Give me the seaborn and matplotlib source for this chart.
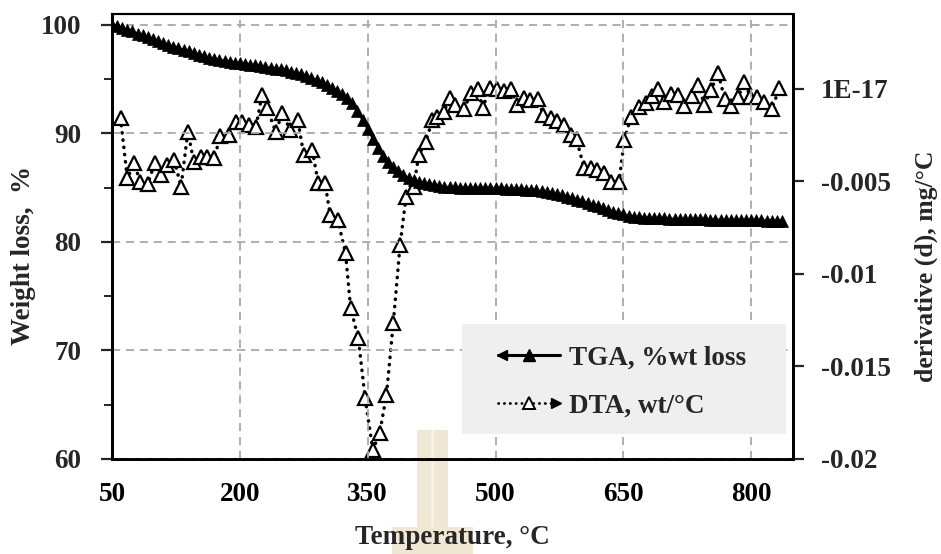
import numpy as np
import pandas as pd
import matplotlib
matplotlib.use("Agg")
import matplotlib.pyplot as plt
import seaborn as sns
from matplotlib.lines import Line2D
from matplotlib.patches import Rectangle
from matplotlib.legend_handler import HandlerLine2D
from matplotlib.ticker import FixedLocator, FixedFormatter

# ---------------- data ----------------
tga_wt = [
    100.0, 99.9, 99.75, 99.55, 99.4, 99.2, 99.05, 98.9, 98.7, 98.5,
    98.35, 98.15, 98.0, 97.85, 97.7, 97.55, 97.4, 97.25, 97.1, 96.98,
    96.88, 96.78, 96.68, 96.6, 96.52, 96.45, 96.38, 96.32, 96.26, 96.2,
    96.12, 96.05, 95.97, 95.9, 95.8, 95.7, 95.58, 95.45, 95.3, 95.12,
    94.92, 94.7, 94.45, 94.18, 93.9, 93.6, 93.25, 92.8, 92.1, 91.2,
    90.4, 89.5, 88.7, 87.9, 87.35, 86.9, 86.5, 86.15, 85.9, 85.7,
    85.52, 85.4, 85.3, 85.22, 85.15, 85.1, 85.05, 85.02, 85.0, 84.99,
    84.98, 84.97, 84.96, 84.95, 84.95, 84.94, 84.93, 84.92, 84.9, 84.88,
    84.86, 84.83, 84.8, 84.75, 84.68, 84.6, 84.5, 84.4, 84.3, 84.18,
    84.05, 83.9, 83.75, 83.6, 83.43, 83.27, 83.1, 82.95, 82.8, 82.68,
    82.55, 82.42, 82.33, 82.28, 82.25, 82.22, 82.2, 82.18, 82.16, 82.15,
    82.13, 82.12, 82.11, 82.1, 82.09, 82.08, 82.07, 82.06, 82.05, 82.04,
    82.03, 82.02, 82.01, 82.0, 81.99, 81.99, 81.98, 81.98, 81.97, 81.97,
    81.96, 81.96,
]
tga_temp = [50 + 6 * i for i in range(len(tga_wt))]

dta_temp = [
    60, 68, 76, 83, 92, 100, 108, 115, 123, 131,
    139, 146, 155, 162, 170, 177, 187, 195, 203, 211,
    219, 226, 232, 242, 250, 259, 268, 275, 285, 292,
    300, 306, 315, 324, 330, 339, 347, 356, 364, 372,
    380, 388, 395, 404, 410, 418, 426, 431, 439, 447,
    453, 463, 471, 479, 485, 493, 502, 510, 518, 525,
    533, 541, 550, 556, 565, 572, 580, 588, 595, 604,
    612, 619, 627, 635, 645, 651, 659, 668, 676, 684,
    691, 698, 706, 714, 721, 730, 738, 745, 753, 761,
    769, 776, 785, 792, 799, 807, 815, 824, 833,
]
dta_milli = [
    -1.58, -4.83, -4.02, -5.01, -5.14, -4.02, -4.65, -4.11, -3.84, -5.28,
    -2.31, -3.93, -3.66, -3.66, -3.75, -2.54, -2.49, -1.77, -1.77, -1.95,
    -2.04, -0.32, -1.04, -2.31, -1.31, -2.22, -1.68, -3.57, -3.30, -5.10,
    -5.10, -6.81, -7.08, -8.88, -11.85, -13.48, -16.72, -19.51, -18.61, -16.54,
    -12.66, -8.43, -5.82, -5.28, -3.57, -2.85, -1.68, -1.50, -1.23, -0.50,
    -0.86, -1.10, -0.23, -0.02, -1.04, 0.04, -0.02, -0.09, -0.02, -0.86,
    -0.50, -0.59, -0.56, -1.41, -1.58, -1.71, -1.95, -2.49, -2.72, -4.29,
    -4.29, -4.38, -4.56, -5.01, -5.01, -2.76, -1.50, -0.96, -0.74, -0.38,
    -0.02, -0.68, -0.27, -0.32, -0.92, -0.38, 0.22, -0.86, -0.05, 0.88,
    -0.56, -0.92, -0.41, 0.39, -0.41, -0.41, -0.68, -1.10, 0.04,
]
dta_val = [v * 1e-3 for v in dta_milli]

x_ticks = [50, 200, 350, 500, 650, 800]
left_ticks = [60, 70, 80, 90, 100]
left_minor = [65, 75, 85, 95]
right_ticks = [-0.02, -0.015, -0.01, -0.005, 0.0]
right_labels = ["-0.02", "-0.015", "-0.01", "-0.005", "1E-17"]

tga_df = pd.DataFrame({"Temperature": tga_temp, "TGA": tga_wt})
dta_df = pd.DataFrame({"Temperature": dta_temp, "DTA": dta_val})

# ---------------- style ----------------
sns.set_style("white")
plt.rcParams["font.family"] = ["Liberation Serif", "DejaVu Serif"]
plt.rcParams["font.weight"] = "bold"
plt.rcParams["axes.labelweight"] = "bold"
FS = 19.5

fig = plt.figure(figsize=(9.41, 5.54), dpi=100)
fig.patch.set_facecolor("white")

# faint watermark behind x label (figure pixels -> fraction)
W, H = 941.0, 554.0
def fr(x0, y0, x1, y1):
    return (x0 / W, 1 - y1 / H), (x1 - x0) / W, (y1 - y0) / H
for (x0, y0, x1, y1), c in [((417, 430, 448, 554), "#f0e7d4"),
                            ((392, 527, 473, 554), "#f0e7d4"),
                            ((431, 430, 434, 527), "#f7f2e8")]:
    xy, w, h = fr(x0, y0, x1, y1)
    fig.patches.append(Rectangle(xy, w, h, transform=fig.transFigure,
                                 facecolor=c, edgecolor="none", zorder=-5))

ax = fig.add_axes([112 / W, 1 - 459 / H, (793 - 112) / W, (459 - 14) / H])
ax2 = ax.twinx()
ax.set_zorder(ax2.get_zorder() + 1)
ax.patch.set_visible(False)
ax2.patch.set_visible(False)

# DTA (right axis)
sns.lineplot(data=dta_df, x="Temperature", y="DTA", ax=ax2, color="black",
             linestyle=(0, (0.1, 2.0)), linewidth=2.5, dash_capstyle="round",
             marker="^", markersize=9.5, markerfacecolor="white",
             markeredgecolor="black", markeredgewidth=1.6, sort=False)
# TGA (left axis)
sns.lineplot(data=tga_df, x="Temperature", y="TGA", ax=ax, color="black",
             linewidth=1.5, marker="^", markersize=9, markerfacecolor="black",
             markeredgecolor="black", markeredgewidth=0.5, sort=False)

ax.set_xlim(50, 849)
ax.set_ylim(60, 101)
ax2.set_ylim(-0.02, 0.00405)

ax.xaxis.set_major_locator(FixedLocator(x_ticks))
ax.xaxis.set_minor_locator(FixedLocator([125, 275, 425, 575, 725]))
ax.yaxis.set_major_locator(FixedLocator(left_ticks))
ax.yaxis.set_minor_locator(FixedLocator(left_minor))
ax2.yaxis.set_major_locator(FixedLocator(right_ticks))
ax2.yaxis.set_major_formatter(FixedFormatter(right_labels))

ax.grid(True, which="major", axis="both", color="#a8a8a8",
        linestyle=(0, (4.5, 3.2)), linewidth=1.3)

ax.tick_params(axis="x", which="major", direction="inout", length=13, width=1.6,
               labelsize=FS, pad=10, colors="black")
ax.tick_params(axis="x", which="minor", direction="out", length=6, width=1.4)
ax.tick_params(axis="y", which="major", direction="out", length=8, width=1.6,
               labelsize=FS, pad=14)
ax.tick_params(axis="y", which="minor", direction="out", length=6, width=1.4)
ax2.tick_params(axis="y", which="major", direction="out", length=8, width=1.6,
                labelsize=FS, pad=12)
for lab in ax.get_xticklabels() + ax.get_yticklabels() + ax2.get_yticklabels():
    lab.set_fontweight("bold")

for a in (ax, ax2):
    for s in a.spines.values():
        s.set_color("black")
        s.set_linewidth(2.0)
    a.spines["top"].set_linewidth(1.5)

ax.set_xlabel("Temperature, °C", fontsize=FS, fontweight="bold")
ax.set_ylabel("Weight loss,  %", fontsize=FS, fontweight="bold")
ax2.set_ylabel("derivative (d), mg/°C", fontsize=FS - 1, fontweight="bold")
ax.xaxis.set_label_coords(0.5, -0.148)
ax.yaxis.set_label_coords(-0.112, 0.458)
ax2.yaxis.set_label_coords(1.178, 0.434)

# legend box + legend
ax.add_patch(Rectangle((0.514, 0.056), 0.476, 0.247, transform=ax.transAxes,
                       facecolor="#efefef", edgecolor="none", zorder=2.5))


class ArrowHandler(HandlerLine2D):
    def __init__(self, side, **kw):
        super().__init__(**kw)
        self.side = side

    def create_artists(self, legend, orig_handle, xdescent, ydescent, width,
                       height, fontsize, trans):
        arts = super().create_artists(legend, orig_handle, xdescent, ydescent,
                                      width, height, fontsize, trans)
        y = height / 2.0 - ydescent
        if self.side == "left":
            head = Line2D([-xdescent + 3], [y], marker="<", markersize=7,
                          color="black", linestyle="none", transform=trans)
        else:
            head = Line2D([width - xdescent - 3], [y], marker=">", markersize=7,
                          color="black", linestyle="none", transform=trans)
        arts.append(head)
        return arts


h_tga = Line2D([], [], color="black", linewidth=2.2, marker="^", markersize=9,
               markerfacecolor="black", markeredgecolor="black")
h_dta = Line2D([], [], color="black", linestyle=(0, (0.1, 2.0)), linewidth=2.0,
               dash_capstyle="round", marker="^", markersize=8.5,
               markerfacecolor="white", markeredgecolor="black",
               markeredgewidth=1.4)
leg = ax.legend([h_tga, h_dta], ["TGA, %wt loss", "DTA, wt/°C"],
                handler_map={h_tga: ArrowHandler("left", numpoints=1),
                             h_dta: ArrowHandler("right", numpoints=1)},
                loc="center left", bbox_to_anchor=(0.567, 0.173),
                frameon=False, borderpad=0, borderaxespad=0,
                handlelength=2.3, handletextpad=0.3, labelspacing=0.85,
                prop={"family": ["Liberation Serif"], "weight": "bold",
                      "size": FS})
leg.set_zorder(3)

fig.savefig("out.png", dpi=100, facecolor="white")
